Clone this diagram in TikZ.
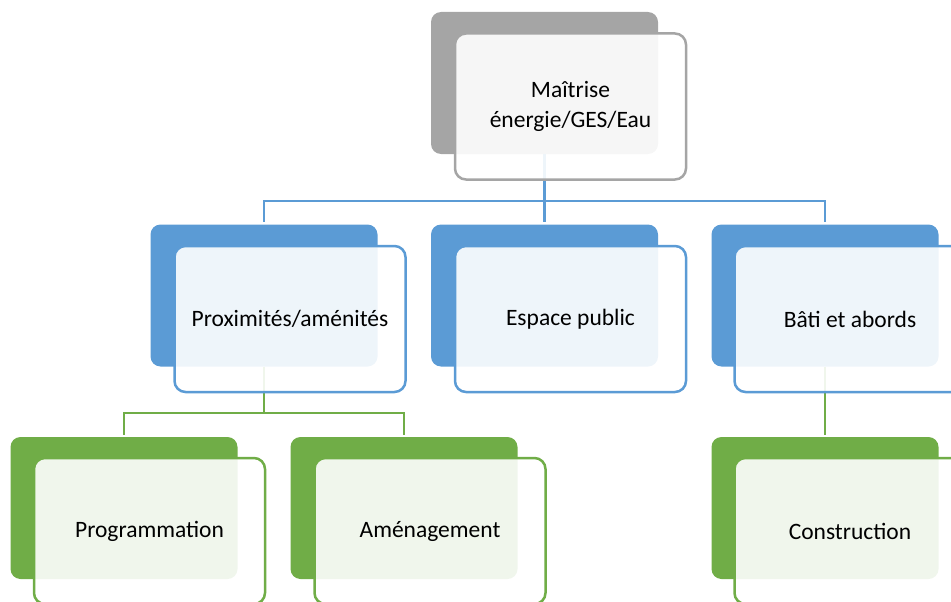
\documentclass[tikz,border=0pt]{standalone}
\usepackage{fontspec}
\setmainfont{Carlito}
\usetikzlibrary{shapes,calc}
\definecolor{grayOne}{HTML}{A5A5A5}
\definecolor{blueOne}{HTML}{5B9BD5}
\definecolor{greenOne}{HTML}{70AD47}

\begin{document}
\begin{tikzpicture}
[x=1pt,y=-1pt,
back/.style={shape=rectangle,rounded corners=10pt,fill=#1,draw=none,
	minimum width=227pt,minimum height=142pt,inner sep=0pt},
front/.style={shape=rectangle,rounded corners=11pt,draw=#1,line width=2.5pt,
	fill=white,fill opacity=0.9,draw opacity=1,text opacity=1,
	minimum width=231pt,minimum height=146pt,inner sep=0pt,align=center,
	font=\fontsize{23.5}{29.5}\selectfont},
link/.style={draw=#1,line width=2.5pt,shorten >=2pt}]
\useasboundingbox (0,0) rectangle (951,602);

% back boxes
\node[back=grayOne] (b0) at (544.5,83) {};
\node[back=blueOne] (b1) at (264,295.5) {};
\node[back=blueOne] (b2) at (544.5,295.5) {};
\node[back=blueOne] (b3) at (825,295.5) {};
\node[back=greenOne] (b4) at (124,508) {};
\node[back=greenOne] (b5) at (404,508) {};
\node[back=greenOne] (b6) at (825,508) {};

% junctions
\coordinate (j0) at (544.5,201);
\coordinate (j1) at (264,413);

\foreach \child in {b1,b2,b3}
{
	\draw[link=blueOne] (b0.south) -- (j0) -| (\child.north);
}
\foreach \child in {b4,b5}
{
	\draw[link=greenOne] (b1.south) -- (j1) -| (\child.north);
}
\draw[link=greenOne] (b3.south) -- (b6.north);

% front boxes
\node[front=grayOne] (f0) at (570.5,106.5) {Maîtrise\\énergie/GES/Eau};
\node[front=blueOne] (f1) at (290,319) {Proximités/aménités};
\node[front=blueOne] (f2) at (570.5,319) {Espace public};
\node[front=blueOne] (f3) at (850,319) {Bâti et abords};
\node[front=greenOne] (f4) at (149.5,531) {Programmation};
\node[front=greenOne] (f5) at (430,531) {Aménagement};
\node[front=greenOne] (f6) at (850,531) {Construction};
\end{tikzpicture}
\end{document}
